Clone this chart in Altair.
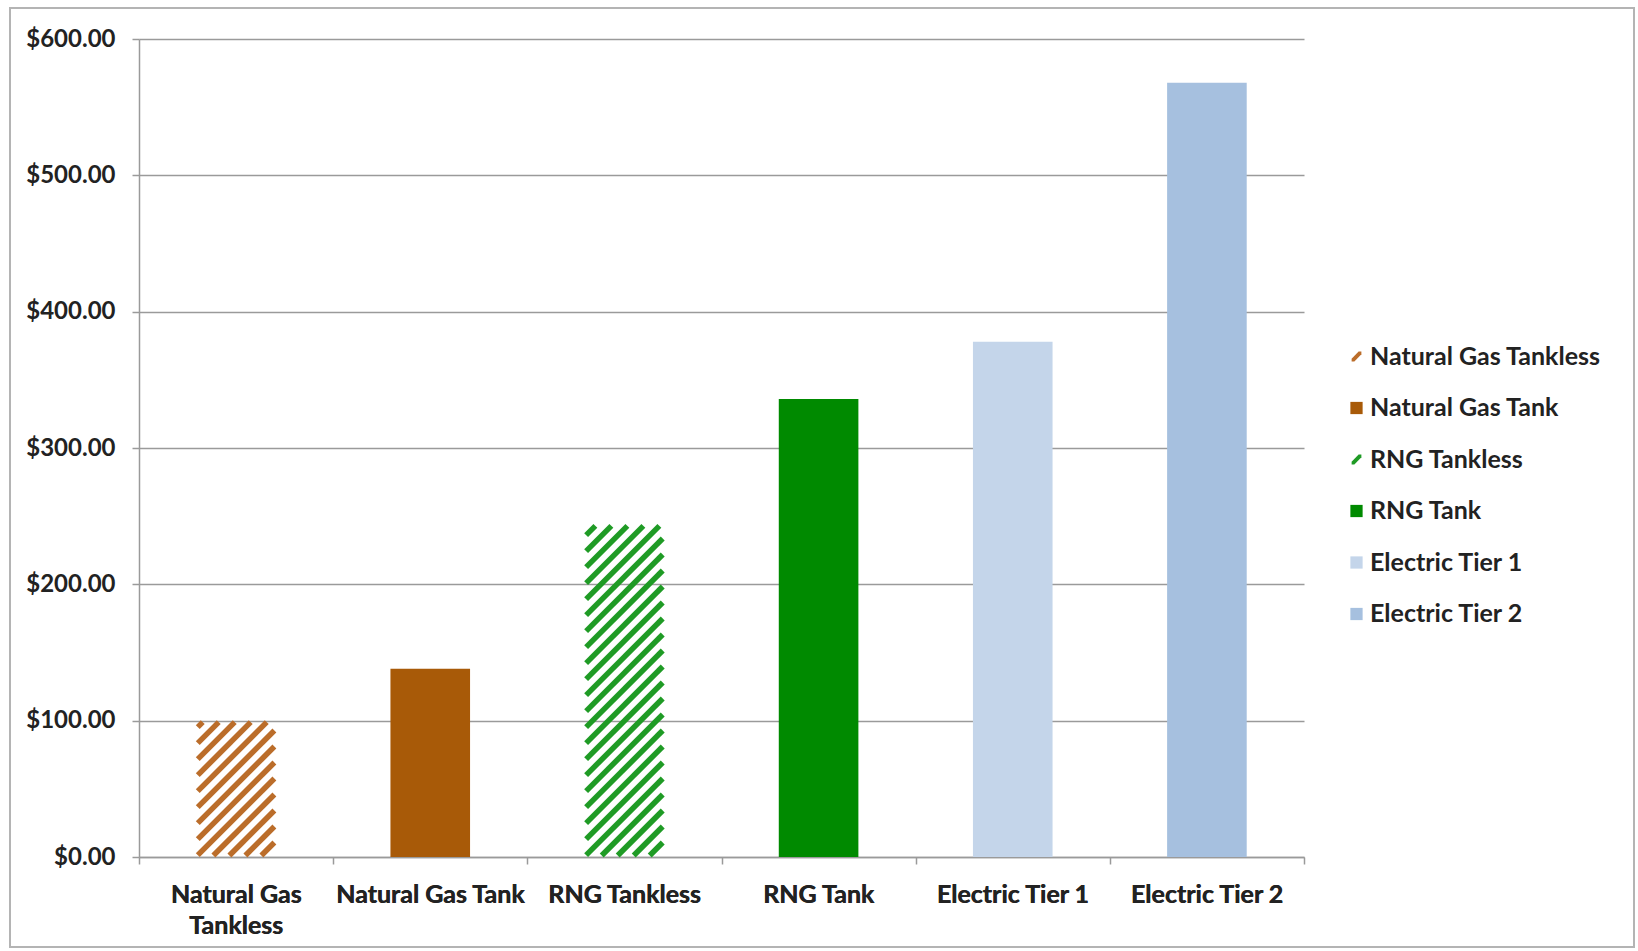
import altair as alt
import pandas as pd

# Annual operating cost per water-heating option
categories = [
    "Natural Gas Tankless",
    "Natural Gas Tank",
    "RNG Tankless",
    "RNG Tank",
    "Electric Tier 1",
    "Electric Tier 2",
]
costs = [100, 138, 244, 336, 378, 568]
hatched = [True, False, True, False, False, False]
palette = ["#BB6D2A", "#A85A08", "#1F9B25", "#008A00", "#C4D5EA", "#A6C0DF"]
y_ticks = [0, 100, 200, 300, 400, 500, 600]

# layout constants
PLOT_W, PLOT_H = 1165, 818
Y_MAX = 600
PAD_IN, PAD_OUT = 0.59, 0.295
HATCH_PERIOD = 16
HATCH_WIDTH = 5.5
FONT = "Lato"
TEXT = "#222222"
LINE = "#9a9a9a"

df = pd.DataFrame({"cat": categories, "value": costs, "hatched": hatched})

# Diagonal hatch segments for the tankless bars, built in the numeric
# band-index space so the stripes run at 45 degrees on screen.
step = PLOT_W / len(categories)
ppy = PLOT_H / Y_MAX
rows = []
for i, (cat, v, h) in enumerate(zip(categories, costs, hatched)):
    if not h:
        continue
    w = (1 - PAD_IN) * step
    hgt = v * ppy
    inset = 1.5
    u_lo, u_hi, t_lo, t_hi = inset, w - inset, inset, hgt - inset
    k = -w
    while k < hgt:
        u0 = max(u_lo, t_lo - k)
        u1 = min(u_hi, t_hi - k)
        if u1 - u0 > 0.5:
            rows.append({
                "cat": cat,
                "hx": i + PAD_OUT + u0 / step,
                "hx2": i + PAD_OUT + u1 / step,
                "value": (u0 + k) / ppy,
                "value2": (u1 + k) / ppy,
            })
        k += HATCH_PERIOD
hatch_df = pd.DataFrame(rows)

slash = "M-0.8,0.35L0.35,-0.8L0.8,-0.8L0.8,-0.35L-0.35,0.8L-0.8,0.8Z"
shapes = [slash if h else "square" for h in hatched]

color_scale = alt.Scale(domain=categories, range=palette)
shape_scale = alt.Scale(domain=categories, range=shapes)
y_scale = alt.Scale(domain=[0, Y_MAX], nice=False)

legend = alt.Legend(
    title=None,
    orient="none",
    legendX=1205,
    legendY=305,
    labelFont=FONT,
    labelFontWeight="bold",
    labelFontSize=25,
    labelColor=TEXT,
    labelLimit=400,
    symbolSize=150,
    symbolStrokeWidth=0,
    symbolOpacity=1,
    rowPadding=25.5,
    labelOffset=1,
    padding=0,
)

y_axis = alt.Axis(
    title=None,
    values=y_ticks,
    format="$,.2f",
    grid=True,
    gridColor=LINE,
    gridWidth=1.5,
    tickSize=7,
    tickColor=LINE,
    tickWidth=1.5,
    domainColor=LINE,
    domainWidth=1.5,
    labelFont=FONT,
    labelFontWeight="bold",
    labelFontSize=24,
    labelColor=TEXT,
    labelPadding=17,
)

x_band = alt.X(
    "cat:N",
    sort=categories,
    scale=alt.Scale(domain=categories, paddingInner=PAD_IN, paddingOuter=PAD_OUT),
    axis=alt.Axis(
        title=None,
        orient="bottom",
        ticks=False,
        domain=False,
        labelAngle=0,
        labelFont=FONT,
        labelFontWeight="bold",
        labelFontSize=25,
        labelColor=TEXT,
        labelPadding=25,
        labelLimit=400,
        labelLineHeight=31,
        labelExpr="datum.label == 'Natural Gas Tankless' ? ['Natural Gas', 'Tankless'] : datum.label",
    ),
)

bars = (
    alt.Chart(df[~df["hatched"]])
    .mark_bar()
    .encode(
        x=x_band,
        y=alt.Y("value:Q", scale=y_scale, axis=y_axis),
        color=alt.Color("cat:N", scale=color_scale, legend=legend),
    )
)

legend_points = (
    alt.Chart(df)
    .mark_point(filled=True, opacity=0)
    .encode(
        x=x_band,
        y=alt.Y("value:Q", scale=y_scale, axis=y_axis),
        color=alt.Color("cat:N", scale=color_scale, legend=legend),
        shape=alt.Shape("cat:N", scale=shape_scale, legend=legend),
    )
)

hatch = (
    alt.Chart(hatch_df)
    .mark_rule(strokeWidth=HATCH_WIDTH, strokeCap="butt")
    .encode(
        x=alt.X(
            "hx:Q",
            scale=alt.Scale(domain=[0, len(categories)], nice=False, zero=False),
            axis=alt.Axis(
                title=None,
                orient="bottom",
                values=list(range(len(categories) + 1)),
                labels=False,
                grid=False,
                tickSize=7,
                tickColor=LINE,
                tickWidth=1.5,
                domainColor=LINE,
                domainWidth=1.5,
            ),
        ),
        x2="hx2:Q",
        y=alt.Y("value:Q", scale=y_scale, axis=y_axis),
        y2="value2:Q",
        stroke=alt.Stroke(
            "cat:N",
            scale=alt.Scale(domain=categories, range=palette),
            legend=None,
        ),
    )
)

frame = (
    alt.Chart(pd.DataFrame({"f": [0]}))
    .mark_rect(fill="transparent", stroke="#b4b4b4", strokeWidth=2)
    .encode(
        x=alt.value(-129),
        x2=alt.value(1495),
        y=alt.value(-31),
        y2=alt.value(908),
    )
)

chart = (
    alt.layer(bars, hatch, legend_points, frame)
    .resolve_scale(x="independent")
    .resolve_axis(x="independent")
    .properties(
        width=PLOT_W,
        height=PLOT_H,
        padding={"left": 139, "top": 39, "right": 334, "bottom": 94},
        autosize=alt.AutoSizeParams(type="none"),
        background="white",
    )
    .configure_view(stroke=None)
)

chart.save("out.html", embed_options={"renderer": "svg", "actions": False})
